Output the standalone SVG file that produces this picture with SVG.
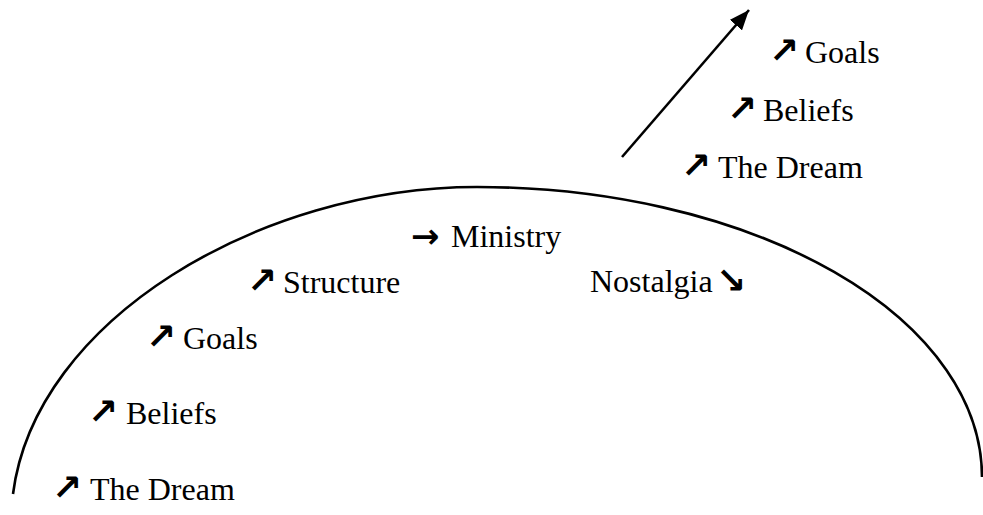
<svg xmlns="http://www.w3.org/2000/svg" width="983" height="515" viewBox="0 0 983 515">
  <style>
    .lbl { font-family: "Liberation Serif", "Times New Roman", serif; font-size: 32px; fill: #000; }
    .arw { font-family: "DejaVu Sans", sans-serif; font-size: 36px; font-weight: bold; fill: #000; }
    .arh { font-family: "DejaVu Sans", sans-serif; font-size: 34px; font-weight: bold; fill: #000; }
    .line { fill: none; stroke: #000; stroke-width: 2.6; }
  </style>
  <defs>
    <marker id="head" markerUnits="userSpaceOnUse" markerWidth="22" markerHeight="16" refX="20" refY="8" orient="auto">
      <path d="M0,0 L20,8 L0,16 z" fill="#000"/>
    </marker>
  </defs>
  <rect width="983" height="515" fill="#fff"/>
  <g id="connectors">
    <path id="dome" class="line" d="M13,494 C35,320 260,187 477,187 A505,290 0 0 1 982,477"/>
    <line id="rise-arrow" class="line" x1="622" y1="157" x2="749" y2="10" marker-end="url(#head)"/>
  </g>
  <g id="label-dream-left">
    <text class="arw" x="52" y="500">↗</text>
    <text class="lbl" x="90" y="500">The Dream</text>
  </g>
  <g id="label-beliefs-left">
    <text class="arw" x="88" y="424">↗</text>
    <text class="lbl" x="126" y="424">Beliefs</text>
  </g>
  <g id="label-goals-left">
    <text class="arw" x="146" y="349">↗</text>
    <text class="lbl" x="183" y="349">Goals</text>
  </g>
  <g id="label-structure">
    <text class="arw" x="247" y="293">↗</text>
    <text class="lbl" x="283" y="293">Structure</text>
  </g>
  <g id="label-ministry">
    <text class="arh" x="411" y="248">→</text>
    <text class="lbl" x="451" y="247">Ministry</text>
  </g>
  <g id="label-nostalgia">
    <text class="lbl" x="590" y="292">Nostalgia</text>
    <text class="arw" x="716" y="293">↘</text>
  </g>
  <g id="label-dream-right">
    <text class="arw" x="681" y="178">↗</text>
    <text class="lbl" x="718" y="178">The Dream</text>
  </g>
  <g id="label-beliefs-right">
    <text class="arw" x="727" y="121">↗</text>
    <text class="lbl" x="763" y="121">Beliefs</text>
  </g>
  <g id="label-goals-right">
    <text class="arw" x="769" y="63">↗</text>
    <text class="lbl" x="805" y="63">Goals</text>
  </g>
</svg>
